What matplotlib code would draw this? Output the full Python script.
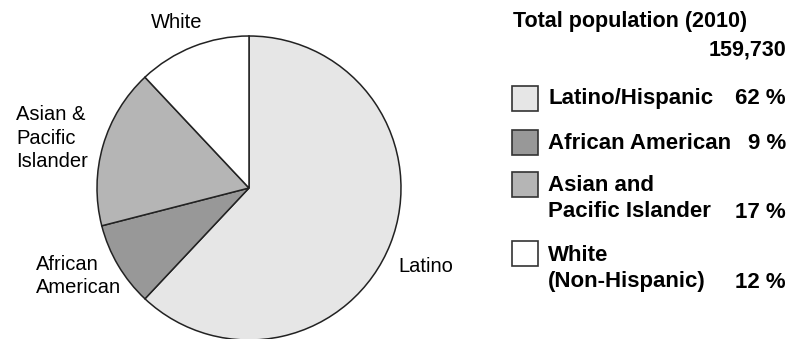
import matplotlib.pyplot as plt
from matplotlib.patches import Rectangle

groups = ["Latino", "African American", "Asian & Pacific Islander", "White"]
shares = [62, 9, 17, 12]
colors = ["#e6e6e6", "#989898", "#b5b5b5", "#ffffff"]
pie_labels = ["Latino", "African\nAmerican", "Asian &\nPacific\nIslander", "White"]
legend_labels = ["Latino/Hispanic", "African American",
                 "Asian and\nPacific Islander", "White\n(Non-Hispanic)"]
total_label = "Total population (2010)"
total_value = "159,730"

W, H = 787, 339
plt.rcParams['font.family'] = ['Liberation Sans', 'DejaVu Sans']
fig = plt.figure(figsize=(W / 100, H / 100), dpi=100)

def fx(x):
    return x / W

def fy(y):
    return 1 - y / H

# pie: centre (249, 188) px, radius 152 px
cx, cy, r = 249, 188, 152
ax = fig.add_axes([fx(cx - r), fy(cy + r), 2 * r / W, 2 * r / H])
ax.pie(shares, colors=colors, startangle=90, counterclock=False,
       wedgeprops=dict(edgecolor="#222222", linewidth=1.1))
ax.set_xlim(-1, 1)
ax.set_ylim(-1, 1)
ax.set_aspect("auto")
ax.axis("off")

# pie labels
fs = 14.5
fig.text(fx(398), fy(267), pie_labels[0], fontsize=fs, va="center", ha="left")
fig.text(fx(36), fy(276), pie_labels[1], fontsize=fs, va="center", ha="left",
         linespacing=1.3)
fig.text(fx(16), fy(138), pie_labels[2], fontsize=fs, va="center", ha="left",
         linespacing=1.3)
fig.text(fx(177), fy(23), pie_labels[3], fontsize=fs, va="center", ha="center")

# legend block
lfs = 16
fig.text(fx(513), fy(22), total_label, fontsize=15.5, fontweight="bold",
         va="center", ha="left")
fig.text(fx(786), fy(50), total_value, fontsize=15.5, fontweight="bold",
         va="center", ha="right")

box_tops = [86, 130, 172, 241]
text_y = [98, 143, 198.5, 268.5]
pct_y = [98, 143, 212, 283]
for i, top in enumerate(box_tops):
    fig.add_artist(Rectangle((fx(512), fy(top + 25)), 26 / W, 25 / H,
                             transform=fig.transFigure, facecolor=colors[i],
                             edgecolor="#333333", linewidth=1.2))
    fig.text(fx(548), fy(text_y[i]), legend_labels[i], fontsize=lfs,
             fontweight="bold", va="center", ha="left", linespacing=1.35)
    fig.text(fx(786), fy(pct_y[i]), f"{shares[i]} %", fontsize=lfs,
             fontweight="bold", va="center", ha="right")

fig.savefig("out.png", dpi=100)
